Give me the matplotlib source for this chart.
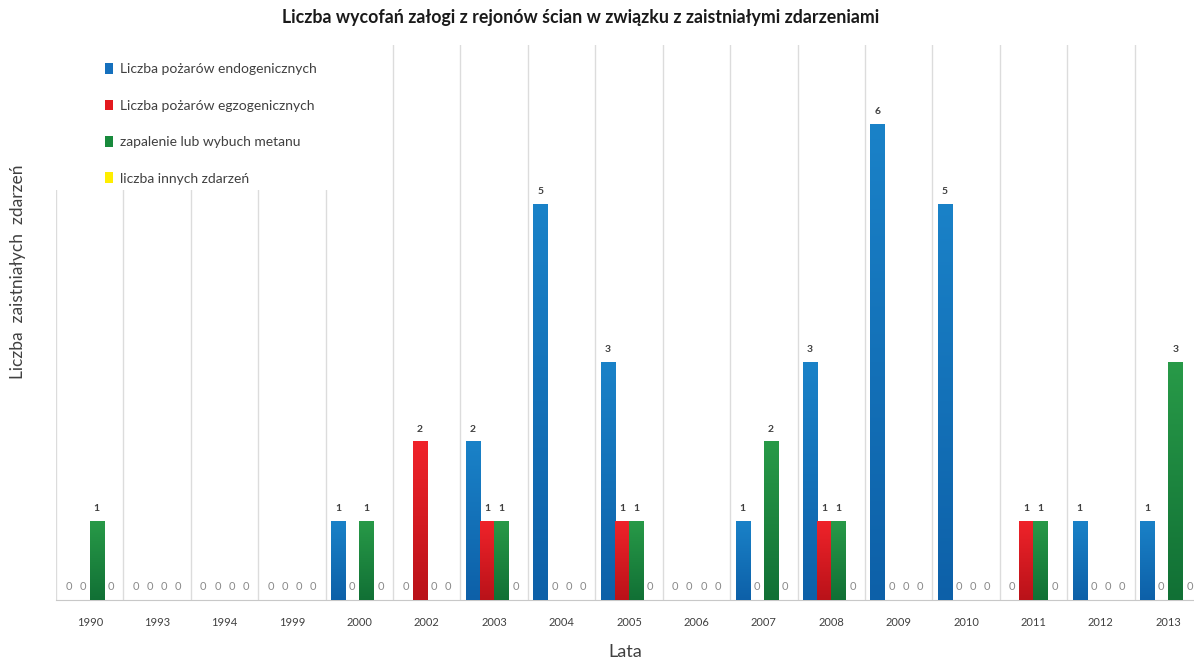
import matplotlib.pyplot as plt
import numpy as np
from matplotlib.colors import LinearSegmentedColormap
from matplotlib.patches import Rectangle

plt.rcParams['font.family'] = ['Lato', 'DejaVu Sans']

lata = ['1990', '1993', '1994', '1999', '2000', '2002', '2003', '2004', '2005',
        '2006', '2007', '2008', '2009', '2010', '2011', '2012', '2013']
endogeniczne = [0, 0, 0, 0, 1, 0, 2, 5, 3, 0, 1, 3, 6, 5, 0, 1, 1]
egzogeniczne = [0, 0, 0, 0, 0, 2, 1, 0, 1, 0, 0, 1, 0, 0, 1, 0, 0]
metan = [1, 0, 0, 0, 1, 0, 1, 0, 1, 0, 2, 1, 0, 0, 1, 0, 3]
inne = [0, 0, 0, 0, 0, 0, 0, 0, 0, 0, 0, 0, 0, 0, 0, 0, 0]

# (label, values, legend colour, bottom shade, top shade)
serie = [
    ('Liczba pożarów endogenicznych', endogeniczne, '#1570bd', '#0d60a8', '#1a82c8'),
    ('Liczba pożarów egzogenicznych', egzogeniczne, '#e3191e', '#b91219', '#f0232a'),
    ('zapalenie lub wybuch metanu', metan, '#188a3c', '#117035', '#289a48'),
    ('liczba innych zdarzeń', inne, '#ffee00', '#f0d800', '#fff34a'),
]

fig = plt.figure(figsize=(11.94, 6.61), dpi=100)
ax = fig.add_axes([56 / 1194, 1 - 600 / 661, 1 - 56 / 1194, (600 - 45) / 661])

x = np.arange(len(lata))
w = 0.21
grad = np.linspace(1, 0, 256).reshape(-1, 1)
for k, (nazwa, wartosci, kolor, dol, gora) in enumerate(serie):
    pos = x + (k - 1.5) * w
    bars = ax.bar(pos, wartosci, width=w, color=kolor, label=nazwa, zorder=3)
    cmap = LinearSegmentedColormap.from_list(nazwa, [dol, gora])
    for b in bars:
        h = b.get_height()
        if h > 0:
            x0 = b.get_x()
            im = ax.imshow(grad, extent=[x0, x0 + b.get_width(), 0, h], aspect='auto',
                           cmap=cmap, vmin=0, vmax=1, zorder=3.5)
            im.set_clip_path(b)
    for px, v in zip(pos, wartosci):
        if v == 0:
            ax.text(px, 0.1, '0', ha='center', va='bottom', fontsize=8,
                    color='#8a8a8a', zorder=4)
        else:
            ax.text(px, v + 0.1, str(v), ha='center', va='bottom', fontsize=7.5,
                    fontweight='bold', color='#404040', zorder=4)

# separators between years
for s in np.arange(len(lata) + 1) - 0.5:
    ax.axvline(s, color='#dcdcdc', lw=1, zorder=1)

# blank area behind the legend
ax.add_patch(Rectangle((0, (600 - 190) / 555), 335 / 1138, 1 - (600 - 190) / 555,
                       transform=ax.transAxes, facecolor='white', edgecolor='none',
                       zorder=2))

ax.set_aspect('auto')
ax.set_xlim(-0.5, len(lata) - 0.5 - 8 / 67.4)
ax.set_ylim(0, 7)
ax.set_xticks(x)
ax.set_xticklabels(lata, fontsize=8, color='#404040')
ax.tick_params(axis='x', length=0, pad=12)
ax.set_yticks([])
for side in ['top', 'right', 'left']:
    ax.spines[side].set_visible(False)
ax.spines['bottom'].set_color('#c8c8c8')

ax.set_xlabel('Lata', fontsize=13, color='#404040', labelpad=12)
fig.text(18 / 1194, 1 - 272 / 661, 'Liczba  zaistniałych  zdarzeń', rotation=90,
         ha='center', va='center', fontsize=12.5, color='#404040')
fig.text(581 / 1194, 1 - 18 / 661, 'Liczba wycofań załogi z rejonów ścian w związku z zaistniałymi zdarzeniami',
         ha='center', va='center', fontsize=12.8, fontweight='bold', color='#1a1a1a')

leg = ax.legend(loc='upper left', bbox_to_anchor=(0.027, 1.0), fontsize=10,
                labelspacing=1.75, handlelength=0.6, handleheight=0.8,
                handletextpad=0.5, borderpad=0.8, frameon=False)
leg.set_zorder(5)
for t in leg.get_texts():
    t.set_color('#404040')

fig.savefig('out.png', dpi=100, facecolor='white')
